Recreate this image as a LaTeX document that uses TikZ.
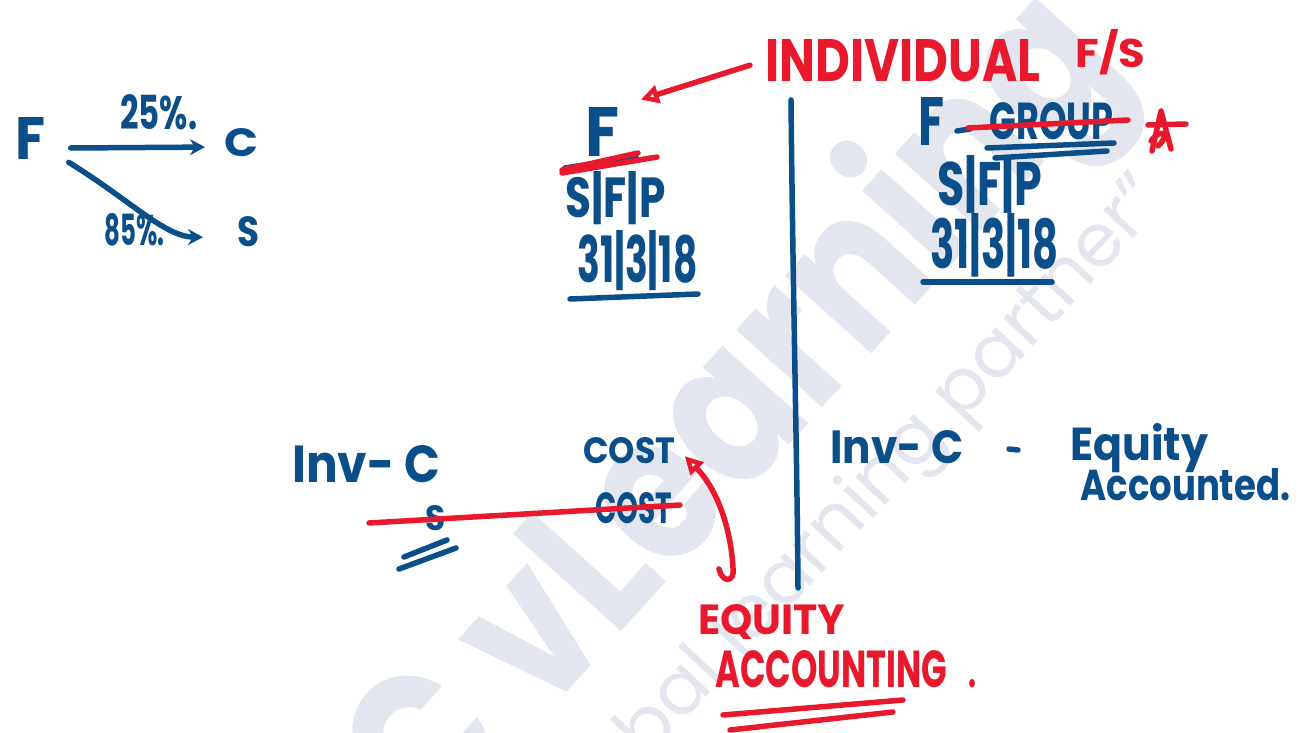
\documentclass[tikz,border=0pt]{standalone}
\usepackage{fontspec}
\setmainfont{Poppins}
\usepackage{graphicx}
\usetikzlibrary{arrows.meta,calc}
\definecolor{ink}{HTML}{0B4F8A}
\definecolor{redink}{HTML}{E8192C}
\definecolor{markgray}{HTML}{E4E6EF}
\newlength\pxu \setlength\pxu{0.2mm}
% handwritten word squeezed into a box of given width and height (in px units)
\newcommand\hand[3]{\resizebox{#1\pxu}{#2\pxu}{\bfseries #3}}

\begin{document}
\begin{tikzpicture}[x=0.2mm,y=-0.2mm,
  pen/.style={line width=1.1mm, line cap=round, line join=round},
  blue pen/.style={pen, draw=ink},
  red pen/.style={pen, draw=redink},
  bluetxt/.style={text=ink, inner sep=0, anchor=base west},
  redtxt/.style={text=redink, inner sep=0, anchor=base west},
  tipB/.style={-{Stealth[length=3mm,width=3.2mm]}},
  tipR/.style={-{Triangle[open,length=3.6mm,width=3.6mm,line width=0.9mm]}}]
\useasboundingbox (0,0) rectangle (1302,733);

% faint watermark lettering
\begin{scope}
  \clip (0,0) rectangle (1302,733);
  \node[text=markgray, font=\fontsize{118}{118}\selectfont\bfseries, rotate=48,
        anchor=base west, inner sep=0] (wm1) at (432,842) {\scalebox{0.82}[1]{C vLearning}};
  \node[text=markgray, font=\fontsize{42}{42}\selectfont, rotate=47,
        anchor=base east, inner sep=0] (wm2) at (1168,202) {your global learning partner”};
\end{scope}

% ---- ownership sketch: F holds 25% of C and 85% of S
\node[bluetxt] (fL)  at (15,160)  {\hand{30}{42}{F}};
\node[bluetxt] (p25) at (120,130) {\hand{77}{35}{25\%.}};
\node[bluetxt] (cL)  at (224,157) {\hand{34}{28}{C}};
\node[bluetxt] (p85) at (104,246) {\hand{60}{32}{85\%.}};
\node[bluetxt] (sL)  at (237,247) {\hand{22}{30}{S}};
\draw[blue pen,tipB] ($(fL.east)+(25,9)$) -- ($(cL.west)+(-19,4)$);
\draw[blue pen,tipB] ($(fL.south east)+(23,2)$)
   .. controls (130,200) and (165,237) .. ($(sL.west)+(-34,5)$);

% ---- individual financial statements
\node[redtxt] (ind) at (765,82) {\hand{275}{42}{INDIVIDUAL}};
\node[redtxt] (fs)  at (1075,68) {\hand{70}{38}{F/S}};
\node[bluetxt] (fM)   at (585,157) {\hand{34}{49}{F}};
\draw[red pen,tipR] ($(ind.west)+(-15,4)$) -- ($(fM.north east)+(21,-8)$);
\draw[blue pen] (565,168) -- (636,157);
\draw[red pen] (562,170) -- (638,153);
\draw[red pen] (562,173) -- (657,157);
\node[bluetxt] (sfpL)  at (565,218) {\hand{100}{46}{S|F|P}};
\node[bluetxt] (dateL) at (577,282) {\hand{120}{52}{31|3|18}};
\draw[blue pen] (570,299) -- (698,294);

% divider
\draw[blue pen] (791,100) .. controls (793,300) and (797,450) .. (798,588);

% ---- group financial statements
\node[bluetxt] (fR)  at (918,146) {\hand{26}{48}{F}};
\draw[blue pen] (957,131) -- (970,129);
\node[bluetxt] (grp) at (989,140) {\hand{124}{37}{GROUP}};
\draw[red pen] (968,128) -- (1128,120);
\draw[blue pen] (987,148) -- (1114,143);
\draw[blue pen] (995,158) -- (1107,151);
% red star mark
\draw[red pen] (1148,125) -- (1186,124);
\draw[red pen] (1152,151) -- (1161,111) -- (1171,149);
\draw[red pen] (1151,141) .. controls (1160,128) and (1172,133) .. (1158,146);
\node[bluetxt] (sfpR)  at (937,206) {\hand{105}{50}{S|F|P}};
\node[bluetxt] (dateR) at (930,268) {\hand{128}{55}{31|3|18}};
\draw[blue pen] (923,282) -- (1052,282);

% ---- investment in C, left: at cost
\node[bluetxt] (invL)  at (292,482) {\hand{148}{37}{Inv- C}};
\node[bluetxt] (cost1) at (583,463) {\hand{92}{26}{COST}};
\node[bluetxt] (cost2) at (595,523) {\hand{77}{31}{COST}};
\node[bluetxt] (sB)    at (425,530) {\hand{20}{25}{S}};
\draw[red pen] (369,523) -- (680,505);
\draw[blue pen] (404,557) -- (447,540);
\draw[blue pen] (399,569) -- (456,548);
\coordinate (hook) at (719,569);
\draw[red pen,tipR] (hook) .. controls (722,583) and (735,583) .. (733,568)
   .. controls (731,530) and (718,490) .. ($(cost1.east)+(9,6)$);

% ---- investment in C, right: equity accounted
\node[bluetxt] (invR) at (830,463) {\hand{133}{33}{Inv- C}};
\draw[blue pen] (1009,449) -- (1018,450);
\node[bluetxt] (eqty) at (1070,460) {\hand{138}{37}{Equity}};
\node[bluetxt] (acct) at (1080,500) {\hand{210}{32}{Accounted.}};

% ---- equity accounting
\node[redtxt] (eqA)  at (698,634) {\hand{147}{30}{EQUITY}};
\node[redtxt] (accA) at (715,687) {\hand{232}{37}{ACCOUNTING}};
\node[redtxt] (accDot) at (968,687) {\hand{8}{8}{.}};
\draw[red pen] (723,715) -- (903,700);
\draw[red pen] (730,730) -- (893,712);
\end{tikzpicture}
\end{document}
